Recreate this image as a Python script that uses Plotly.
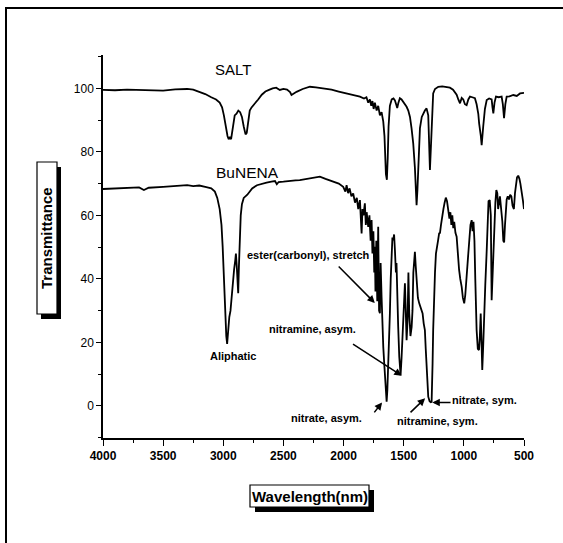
import plotly.graph_objects as go

# ---------------- data ----------------
salt_wavenumber = [
    4000, 3900, 3800, 3700, 3600, 3500, 3400, 3300, 3250, 3200,
    3150, 3100, 3060, 3030, 3010, 2995, 2980, 2965, 2955, 2945,
    2935, 2920, 2905, 2890, 2875, 2860, 2845, 2830, 2815, 2805,
    2795, 2780, 2765, 2740, 2710, 2680, 2650, 2620, 2590, 2560,
    2530, 2500, 2470, 2445, 2433, 2420, 2391, 2340, 2280, 2230,
    2170, 2100, 2040, 1975, 1920, 1864, 1830, 1810, 1795, 1781,
    1770, 1760, 1750, 1740, 1725, 1712, 1698, 1684, 1670, 1660,
    1648, 1640, 1633, 1626, 1615, 1600, 1585, 1573, 1563, 1554,
    1544, 1532, 1518, 1504, 1490, 1476, 1462, 1448, 1435, 1421,
    1407, 1400, 1393, 1386, 1379, 1365, 1350, 1338, 1324, 1310,
    1296, 1282, 1275, 1268, 1255, 1240, 1213, 1180, 1150, 1116,
    1090, 1075, 1060, 1046, 1032, 1018, 1005, 991, 977, 963,
    949, 930, 908, 894, 880, 873, 866, 859, 852, 845,
    839, 825, 810, 790, 769, 762, 755, 745, 733, 710,
    686, 676, 666, 655, 644, 620, 589, 560, 533, 500,
]
salt_transmittance = [
    99.5, 99.4, 99.6, 99.5, 99.6, 99.3, 99.7, 99.8, 99.6, 99.0,
    98.2, 97.2, 96.5, 95.5, 94.0, 91.5, 88.0, 85.0, 84.0, 84.5,
    84.0, 88.0, 91.5, 92.0, 93.0, 92.5, 91.0, 88.0, 85.5, 86.0,
    88.5, 93.0, 94.0, 95.0, 96.5, 98.0, 99.0, 99.5, 100.0, 100.2,
    99.5, 99.8, 99.6, 98.8, 97.9, 98.2, 98.9, 99.8, 100.5, 100.3,
    100.0, 99.6, 99.0, 98.4, 98.0, 97.4, 96.8, 97.2, 95.5, 96.5,
    94.5, 96.0, 93.5, 95.5, 93.0, 94.5, 91.5, 92.5, 89.5, 85.0,
    73.0, 71.2, 78.0, 88.0, 94.5, 96.5, 96.8, 96.2, 95.0, 93.8,
    95.5, 96.9, 96.5, 95.8, 95.0, 94.2, 93.0, 91.0, 87.5, 82.7,
    75.0, 68.0, 63.2, 68.0, 75.0, 87.5, 91.0, 92.1, 93.0, 93.7,
    91.5, 74.3, 80.0, 88.0, 98.4, 99.8, 100.5, 100.6, 100.3, 100.2,
    99.6, 98.8, 98.0, 96.5, 95.3, 97.0, 96.5, 95.0, 94.7, 96.5,
    97.4, 97.2, 96.9, 95.0, 92.0, 89.0, 87.5, 85.0, 82.1, 86.0,
    88.0, 93.5, 96.3, 96.8, 96.5, 94.0, 92.1, 95.5, 97.4, 97.2,
    97.4, 95.0, 90.6, 95.0, 97.4, 97.5, 97.9, 97.6, 98.4, 98.6,
]

bunena_wavenumber = [
    4000, 3900, 3800, 3700, 3660, 3620, 3500, 3400, 3300, 3250,
    3200, 3150, 3100, 3070, 3050, 3030, 3015, 3005, 2995, 2985,
    2975, 2968, 2960, 2950, 2940, 2930, 2920, 2910, 2900, 2895,
    2888, 2882, 2876, 2870, 2862, 2855, 2845, 2830, 2800, 2760,
    2720, 2680, 2640, 2600, 2570, 2555, 2540, 2500, 2450, 2400,
    2364, 2300, 2240, 2197, 2150, 2087, 2040, 2003, 1985, 1975,
    1962, 1950, 1935, 1920, 1905, 1890, 1878, 1864, 1857, 1850,
    1843, 1835, 1823, 1815, 1808, 1795, 1785, 1775, 1767, 1760,
    1752, 1745, 1740, 1735, 1728, 1720, 1712, 1705, 1698, 1692,
    1684, 1677, 1670, 1663, 1656, 1649, 1642, 1636, 1629, 1622,
    1615, 1608, 1601, 1594, 1587, 1580, 1573, 1565, 1560, 1554,
    1546, 1537, 1531, 1526, 1518, 1509, 1500, 1490, 1483, 1476,
    1468, 1461, 1454, 1444, 1434, 1427, 1420, 1412, 1407, 1400,
    1393, 1382, 1371, 1360, 1350, 1343, 1334, 1324, 1317, 1310,
    1303, 1296, 1285, 1275, 1268, 1264, 1260, 1255, 1249, 1240,
    1232, 1226, 1215, 1205, 1199, 1190, 1180, 1170, 1160, 1150,
    1140, 1130, 1120, 1112, 1104, 1096, 1088, 1080, 1070, 1060,
    1050, 1040, 1030, 1018, 1008, 997, 988, 977, 965, 955,
    945, 935, 928, 920, 912, 905, 899, 894, 884, 874,
    867, 860, 853, 847, 840, 833, 822, 810, 803, 795,
    785, 776, 769, 762, 755, 746, 738, 730, 722, 715,
    708, 700, 695, 688, 680, 672, 665, 658, 650, 644,
    635, 625, 615, 605, 595, 584, 575, 565, 558, 548,
    538, 530, 520, 510, 500,
]
bunena_transmittance = [
    68.3, 68.5, 68.6, 68.8, 68.0, 68.7, 69.0, 69.2, 69.5, 69.2,
    69.4, 69.0, 68.5, 67.5, 65.5, 62.0, 57.0, 50.0, 40.0, 30.0,
    22.0, 19.5, 24.0, 28.0, 30.0, 35.0, 39.5, 43.0, 46.0, 48.0,
    44.0, 40.0, 35.5, 44.0, 52.0, 60.0, 63.5, 65.5, 66.5, 68.5,
    69.5, 70.0, 70.3, 70.6, 70.8, 69.8, 70.5, 70.6, 70.9, 71.0,
    71.1, 71.5, 72.0, 72.2, 71.5, 70.6, 70.0, 69.0, 67.5, 69.5,
    67.0, 68.5, 66.0, 66.9, 64.0, 65.5, 62.0, 64.8, 58.0, 54.3,
    62.0, 60.0, 63.8, 57.0, 61.0, 56.4, 60.0, 52.0, 58.5, 48.0,
    55.0, 42.0, 50.1, 36.0, 52.0, 33.0, 56.4, 30.0, 29.2, 45.0,
    34.4, 24.0, 18.6, 14.0, 9.2, 4.0, 1.3, 5.0, 11.3, 20.0,
    29.1, 40.0, 49.0, 53.0, 52.2, 54.0, 49.0, 42.0, 45.0, 34.4,
    25.0, 15.5, 11.0, 9.7, 15.0, 23.9, 31.0, 38.6, 30.0, 20.7,
    27.0, 42.0, 29.1, 22.0, 24.9, 30.0, 42.0, 46.0, 48.5, 44.0,
    39.6, 34.0, 32.3, 31.0, 30.0, 29.1, 26.0, 23.9, 18.0, 11.3,
    6.0, 2.9, 1.5, 1.2, 1.3, 6.0, 13.4, 24.0, 34.4, 42.0,
    48.0, 50.1, 52.0, 54.5, 54.3, 57.0, 60.0, 62.0, 64.0, 65.6,
    64.5, 61.0, 59.0, 61.0, 57.0, 60.0, 56.0, 58.0, 54.5, 53.3,
    47.0, 43.0, 40.0, 37.5, 34.0, 32.3, 35.0, 39.6, 47.0, 52.0,
    57.0, 58.5, 55.0, 58.0, 52.0, 40.0, 30.0, 23.9, 18.0, 17.6,
    22.0, 29.1, 20.0, 11.3, 18.0, 23.9, 38.0, 49.0, 60.0, 64.5,
    64.8, 60.0, 33.3, 42.0, 50.1, 58.0, 64.0, 68.0, 67.0, 62.0,
    65.0, 66.0, 64.0, 62.0, 58.0, 52.0, 51.5, 57.0, 62.0, 65.0,
    66.0, 65.0, 66.5, 66.0, 63.0, 62.0, 67.0, 70.0, 72.0, 72.5,
    71.5, 70.0, 68.0, 65.0, 62.0,
]

x_tick_values = [4000, 3500, 3000, 2500, 2000, 1500, 1000, 500]
y_tick_values = [0, 20, 40, 60, 80, 100]

series_labels = ["SALT", "BuNENA"]
x_title = "Wavelength(nm)"
y_title = "Transmittance"

# peak labels: (text, text_x, text_y, arrow_head_x, arrow_head_y, arrow_tail_x, arrow_tail_y)
peak_labels = [
    ("ester(carbonyl), stretch", 2292, 47.4, 1740, 32.4, 2053, 44.4),
    ("nitramine, asym.", 2262, 24.2, 1516, 9.5, 1934, 19.8),
    ("Aliphatic", 2919, 15.7, None, None, None, None),
    ("nitrate, asym.", 2143, -3.8, 1680, 1.1, 1754, -2.5),
    ("nitramine, sym.", 1217, -4.7, 1322, 2.4, 1456, -2.5),
    ("nitrate, sym.", 829, 1.9, 1262, 1.1, 1098, 1.1),
]

# ---------------- layout helpers ----------------
W, H = 563, 543
ML, MR, MT, MB = 103, 39, 55, 105
PW, PH = W - ML - MR, H - MT - MB


def px(x):
    return (x - ML) / PW


def py(y):
    return (H - MB - y) / PH


FONT = "Liberation Sans, Arial, sans-serif"

fig = go.Figure()
fig.add_trace(go.Scatter(x=salt_wavenumber, y=salt_transmittance, mode="lines",
                         line=dict(color="black", width=1.8), name=series_labels[0],
                         showlegend=False))
fig.add_trace(go.Scatter(x=bunena_wavenumber, y=bunena_transmittance, mode="lines",
                         line=dict(color="black", width=1.8), name=series_labels[1],
                         showlegend=False))

annotations = [
    dict(x=2919, y=106, xref="x", yref="y", text=series_labels[0], showarrow=False,
         xanchor="center", yanchor="middle",
         font=dict(family=FONT, size=15, color="black")),
    dict(x=2800, y=73.6, xref="x", yref="y", text=series_labels[1], showarrow=False,
         xanchor="center", yanchor="middle",
         font=dict(family=FONT, size=15.5, color="black")),
]
for text, tx, ty, hx, hy, ax_, ay_ in peak_labels:
    annotations.append(dict(x=tx, y=ty, xref="x", yref="y", text=text, showarrow=False,
                            xanchor="center", yanchor="middle",
                            font=dict(family=FONT, size=11, color="black", weight="bold")))
    if hx is not None:
        annotations.append(dict(x=hx, y=hy, xref="x", yref="y", ax=ax_, ay=ay_,
                                axref="x", ayref="y", text="", showarrow=True,
                                arrowhead=2, arrowsize=1.0, arrowwidth=1.5,
                                arrowcolor="black", standoff=0))

# axis title texts inside boxes
annotations.append(dict(x=px(47), y=py(238), xref="paper", yref="paper", text=y_title,
                        showarrow=False, textangle=-90, xanchor="center", yanchor="middle",
                        font=dict(family=FONT, size=15, color="black", weight="bold")))
annotations.append(dict(x=px(309.5), y=py(496), xref="paper", yref="paper", text=x_title,
                        showarrow=False, xanchor="center", yanchor="middle",
                        font=dict(family=FONT, size=15, color="black", weight="bold")))

shapes = [
    # outer frame (top and left)
    dict(type="line", xref="paper", yref="paper", x0=px(5), x1=px(563), y0=py(8), y1=py(8),
         line=dict(color="black", width=2)),
    dict(type="line", xref="paper", yref="paper", x0=px(6), x1=px(6), y0=py(8), y1=py(543),
         line=dict(color="black", width=2)),
    # y title box shadow + box
    dict(type="rect", xref="paper", yref="paper", x0=px(41), x1=px(61), y0=py(167), y1=py(319),
         fillcolor="black", line=dict(width=0), layer="below"),
    dict(type="rect", xref="paper", yref="paper", x0=px(37), x1=px(57), y0=py(162), y1=py(314),
         fillcolor="white", line=dict(color="black", width=1.2), layer="below"),
    # x title box shadow + box
    dict(type="rect", xref="paper", yref="paper", x0=px(255), x1=px(374), y0=py(490), y1=py(512),
         fillcolor="black", line=dict(width=0), layer="below"),
    dict(type="rect", xref="paper", yref="paper", x0=px(250), x1=px(369), y0=py(485), y1=py(507),
         fillcolor="white", line=dict(color="black", width=1.2), layer="below"),
]

fig.update_layout(
    width=W, height=H,
    margin=dict(l=ML, r=MR, t=MT, b=MB, pad=0),
    paper_bgcolor="white", plot_bgcolor="rgba(0,0,0,0)",
    annotations=annotations, shapes=shapes,
    font=dict(family=FONT, color="black"),
)
fig.update_xaxes(range=[4000, 500], tickvals=x_tick_values,
                 ticktext=[str(v) for v in x_tick_values],
                 showgrid=False, zeroline=False, showline=True, linecolor="black", linewidth=1.5,
                 ticks="outside", ticklen=6, tickwidth=1.3, tickcolor="black",
                 minor=dict(dtick=250, tick0=500, ticks="outside", ticklen=3, tickcolor="black",
                            tickwidth=1, showgrid=False),
                 tickfont=dict(family=FONT, size=12, color="black", weight="bold"))
fig.update_yaxes(range=[-10.1, 110.5], tickvals=y_tick_values,
                 showgrid=False, zeroline=False, showline=True, linecolor="black", linewidth=1.5,
                 ticks="outside", ticklen=5, tickwidth=1.3, tickcolor="black",
                 minor=dict(dtick=10, tick0=0, ticks="outside", ticklen=3, tickcolor="black",
                            tickwidth=1, showgrid=False),
                 tickfont=dict(family=FONT, size=12, color="black"))

fig.write_html("out.html")
